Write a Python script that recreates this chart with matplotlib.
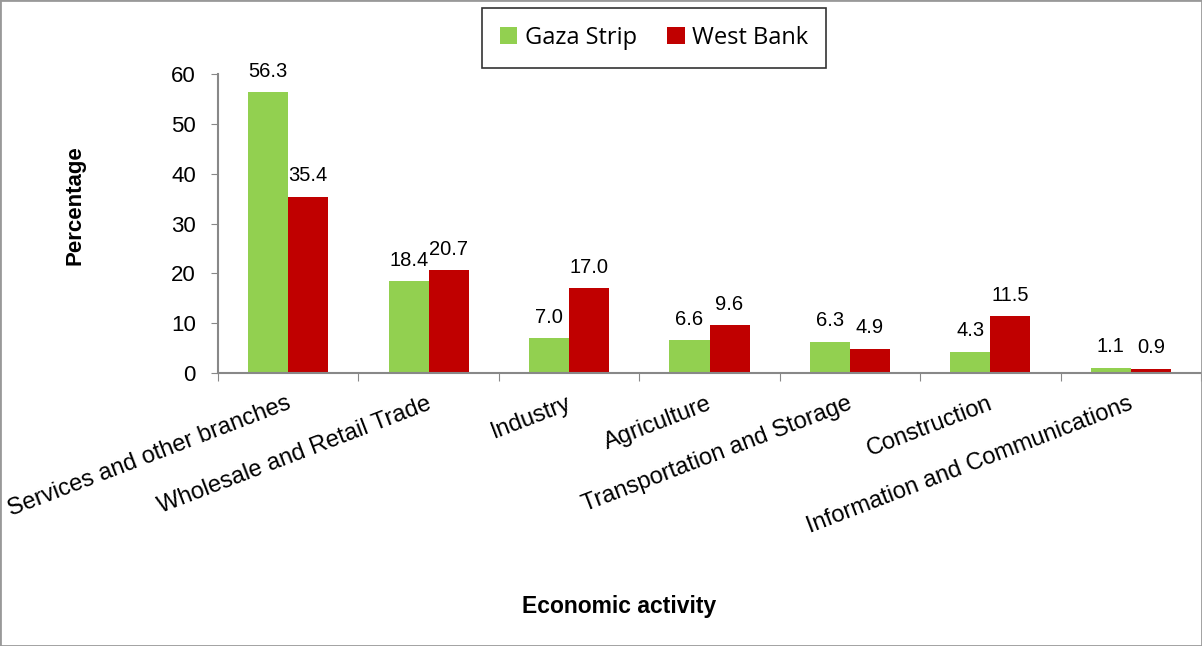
import matplotlib

matplotlib.use("Agg")
import matplotlib.pyplot as plt
import numpy as np
from matplotlib.patches import Rectangle

categories = [
    "Services and other branches",
    "Wholesale and Retail Trade",
    "Industry",
    "Agriculture",
    "Transportation and Storage",
    "Construction",
    "Information and Communications",
]
gaza = [56.3, 18.4, 7.0, 6.6, 6.3, 4.3, 1.1]
west_bank = [35.4, 20.7, 17.0, 9.6, 4.9, 11.5, 0.9]
y_ticks = [0, 10, 20, 30, 40, 50, 60]

plt.rcParams["font.family"] = ["Liberation Sans", "DejaVu Sans"]

fig = plt.figure(figsize=(12.02, 6.46), dpi=100)
ax = fig.add_axes([218 / 1202, 1 - 373 / 646, (1201 - 218) / 1202, (373 - 74) / 646])

x = np.arange(len(categories))
w = 0.285
b1 = ax.bar(x - w / 2, gaza, w, color="#92d050", label="Gaza Strip")
b2 = ax.bar(x + w / 2, west_bank, w, color="#c00000", label="West Bank")

for bars, vals in ((b1, gaza), (b2, west_bank)):
    for bar, v in zip(bars, vals):
        ax.annotate(f"{v:.1f}", (bar.get_x() + bar.get_width() / 2, v),
                    xytext=(0, 8), textcoords="offset points",
                    ha="center", va="bottom", fontsize=14.5)

ax.set_xlim(-0.5, len(categories) - 0.5)
ax.set_ylim(0, 60)
ax.set_yticks(y_ticks)
ax.tick_params(axis="y", labelsize=16, length=5, color="#888888",
               direction="out", pad=11)
ax.set_xticks(np.arange(len(categories) + 1) - 0.5)
ax.set_xticklabels([])
ax.tick_params(axis="x", length=6, color="#888888", direction="out")

for i, cat in enumerate(categories):
    ax.text(i + 0.01, -6, cat, rotation=21, rotation_mode="anchor",
            ha="right", va="center", fontsize=17)

for s in ("top", "right"):
    ax.spines[s].set_visible(False)
for s in ("left", "bottom"):
    ax.spines[s].set_color("#888888")
    ax.spines[s].set_linewidth(1.5)

fig.text(75 / 1202, 1 - 205 / 646, "Percentage", rotation=90, ha="center",
         va="center", fontsize=16, fontweight="bold")
fig.text(619 / 1202, 1 - 607 / 646, "Economic activity", ha="center",
         va="center", fontsize=16.5, fontweight="bold")

leg = fig.legend(loc="center", bbox_to_anchor=(654 / 1202, 1 - 38 / 646),
                 ncol=2, frameon=True, fancybox=False,
                 prop={"family": "Open Sans", "size": 17},
                 handlelength=0.75, handleheight=0.75, columnspacing=1.3,
                 handletextpad=0.3, borderpad=0.75, borderaxespad=0)
leg.get_frame().set_edgecolor("black")
leg.get_frame().set_linewidth(1.2)

fig.patches.append(Rectangle((0, 0), 1, 1, transform=fig.transFigure,
                             fill=False, edgecolor="#999999", linewidth=2))

fig.savefig("out.png", dpi=100)
